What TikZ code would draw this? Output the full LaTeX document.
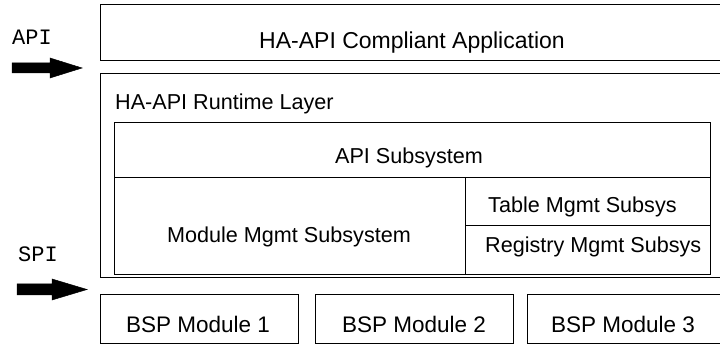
\documentclass[tikz,border=0pt]{standalone}
\usepackage{fontspec}
\setmainfont{Liberation Sans}
\newfontfamily\monof{Liberation Mono}
\begin{document}
\begin{tikzpicture}[x=1pt,y=-1pt,
  box/.style={draw=black,line width=1pt,inner sep=0pt},
  lbl/.style={inner sep=0pt,anchor=base,font=\fontsize{21.6}{24}\selectfont},
  iface/.style={inner sep=0pt,anchor=base,font=\monof\fontsize{22}{24}\selectfont},
  fatarrow/.style={fill=black,draw=black,line width=0.5pt,line join=miter}]
\useasboundingbox (0,0) rectangle (720,344);
\clip (0,0) rectangle (720,344);
% application
\draw[box] (100,5) rectangle (722,61);
\node[lbl,font=\fontsize{23}{26}\selectfont] (app) at (412,49) {HA-API Compliant Application};
% runtime layer
\draw[box] (100,74) rectangle (722,278);
\node[lbl,anchor=base west] (rt) at (115,110) {HA-API Runtime Layer};
% inner subsystems
\draw[box] (114,123) rectangle (710,275);
\draw[box] (114,178) -- (710,178);
\draw[box] (465,178) -- (465,275);
\draw[box] (465,226) -- (710,226);
\node[lbl] (apis) at (409,164) {API Subsystem};
\node[lbl] (mod) at (289,243) {Module Mgmt Subsystem};
\node[lbl,anchor=base west] (tab) at (488,213) {Table Mgmt Subsys};
\node[lbl,anchor=base west] (reg) at (485,253) {Registry Mgmt Subsys};
% BSP modules
\draw[box] (100,295) rectangle (298,343.5);
\draw[box] (315,295) rectangle (513,343.5);
\draw[box] (527,295) rectangle (722,343.5);
\node[lbl,font=\fontsize{22.5}{25}\selectfont] (b1) at (198,333) {BSP Module 1};
\node[lbl,font=\fontsize{22.5}{25}\selectfont] (b2) at (414,333) {BSP Module 2};
\node[lbl,font=\fontsize{22.5}{25}\selectfont] (b3) at (623,333) {BSP Module 3};
% interface labels and arrows
\node[iface] (api) at (32,45) {API};
\node[iface] (spi) at (38,262) {SPI};
\fill[fatarrow] (12,63) -- (50,63) -- (50,58) -- (82,68) -- (50,78) -- (50,73) -- (12,73) -- cycle;
\fill[fatarrow] (17,284) -- (52,284) -- (52,279) -- (87,289.5) -- (52,300) -- (52,295) -- (17,295) -- cycle;
\end{tikzpicture}
\end{document}
